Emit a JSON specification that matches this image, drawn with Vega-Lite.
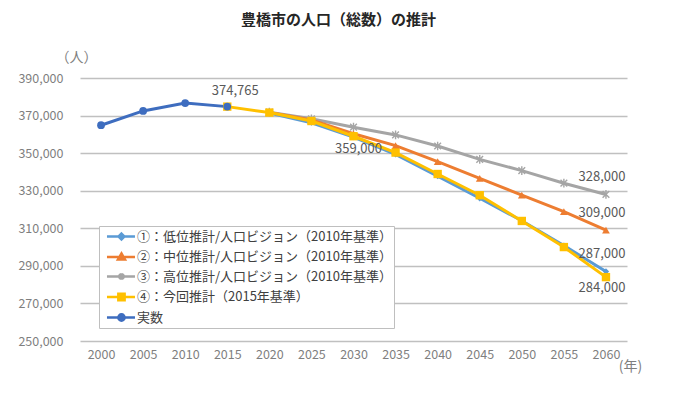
{
  "$schema": "https://vega.github.io/schema/vega-lite/v6.json",
  "width": 547,
  "height": 263,
  "autosize": {"type": "none"},
  "padding": {"left": 80, "top": 78, "right": 49, "bottom": 56},
  "title": {"text": "豊橋市の人口（総数）の推計", "frame": "group", "anchor": "middle", "offset": 22, "dx": -15, "fontSize": 15, "fontWeight": "bold", "color": "#262626", "font": "Noto Sans CJK JP"},
  "config": {
    "font": "Noto Sans CJK JP",
    "view": {"stroke": null},
    "axis": {"labelFont": "Noto Sans CJK JP", "titleFont": "Noto Sans CJK JP"}
  },
  "data": {
    "values": [
      {"series": "③：高位推計/人口ビジョン（2010年基準）", "year": 2020, "value": 371800},
      {"series": "③：高位推計/人口ビジョン（2010年基準）", "year": 2025, "value": 368300},
      {"series": "③：高位推計/人口ビジョン（2010年基準）", "year": 2030, "value": 363800},
      {"series": "③：高位推計/人口ビジョン（2010年基準）", "year": 2035, "value": 359700},
      {"series": "③：高位推計/人口ビジョン（2010年基準）", "year": 2040, "value": 353800},
      {"series": "③：高位推計/人口ビジョン（2010年基準）", "year": 2045, "value": 346700},
      {"series": "③：高位推計/人口ビジョン（2010年基準）", "year": 2050, "value": 340700},
      {"series": "③：高位推計/人口ビジョン（2010年基準）", "year": 2055, "value": 334000},
      {"series": "③：高位推計/人口ビジョン（2010年基準）", "year": 2060, "value": 328000},
      {"series": "②：中位推計/人口ビジョン（2010年基準）", "year": 2020, "value": 371600},
      {"series": "②：中位推計/人口ビジョン（2010年基準）", "year": 2025, "value": 367600},
      {"series": "②：中位推計/人口ビジョン（2010年基準）", "year": 2030, "value": 360300},
      {"series": "②：中位推計/人口ビジョン（2010年基準）", "year": 2035, "value": 354000},
      {"series": "②：中位推計/人口ビジョン（2010年基準）", "year": 2040, "value": 345500},
      {"series": "②：中位推計/人口ビジョン（2010年基準）", "year": 2045, "value": 336600},
      {"series": "②：中位推計/人口ビジョン（2010年基準）", "year": 2050, "value": 327700},
      {"series": "②：中位推計/人口ビジョン（2010年基準）", "year": 2055, "value": 318900},
      {"series": "②：中位推計/人口ビジョン（2010年基準）", "year": 2060, "value": 309000},
      {"series": "①：低位推計/人口ビジョン（2010年基準）", "year": 2020, "value": 371300},
      {"series": "①：低位推計/人口ビジョン（2010年基準）", "year": 2025, "value": 366200},
      {"series": "①：低位推計/人口ビジョン（2010年基準）", "year": 2030, "value": 358500},
      {"series": "①：低位推計/人口ビジョン（2010年基準）", "year": 2035, "value": 349300},
      {"series": "①：低位推計/人口ビジョン（2010年基準）", "year": 2040, "value": 337800},
      {"series": "①：低位推計/人口ビジョン（2010年基準）", "year": 2045, "value": 326000},
      {"series": "①：低位推計/人口ビジョン（2010年基準）", "year": 2050, "value": 314000},
      {"series": "①：低位推計/人口ビジョン（2010年基準）", "year": 2055, "value": 300800},
      {"series": "①：低位推計/人口ビジョン（2010年基準）", "year": 2060, "value": 287000},
      {"series": "④：今回推計（2015年基準）", "year": 2015, "value": 374765},
      {"series": "④：今回推計（2015年基準）", "year": 2020, "value": 371600},
      {"series": "④：今回推計（2015年基準）", "year": 2025, "value": 367100},
      {"series": "④：今回推計（2015年基準）", "year": 2030, "value": 359000},
      {"series": "④：今回推計（2015年基準）", "year": 2035, "value": 350300},
      {"series": "④：今回推計（2015年基準）", "year": 2040, "value": 338900},
      {"series": "④：今回推計（2015年基準）", "year": 2045, "value": 327600},
      {"series": "④：今回推計（2015年基準）", "year": 2050, "value": 313900},
      {"series": "④：今回推計（2015年基準）", "year": 2055, "value": 300000},
      {"series": "④：今回推計（2015年基準）", "year": 2060, "value": 284000},
      {"series": "実数", "year": 2000, "value": 364856},
      {"series": "実数", "year": 2005, "value": 372479},
      {"series": "実数", "year": 2010, "value": 376665},
      {"series": "実数", "year": 2015, "value": 374765}
    ]
  },
  "encoding": {
    "x": {
      "field": "year", "type": "ordinal",
      "scale": {"type": "point", "padding": 0.5, "domain": [2000, 2005, 2010, 2015, 2020, 2025, 2030, 2035, 2040, 2045, 2050, 2055, 2060]},
      "axis": {"title": "(年)", "labelAngle": 0, "ticks": false, "domain": false, "grid": false, "labelPadding": 7, "labelFontSize": 12.5, "labelColor": "#7f7f7f", "titleX": 550, "titleY": 25, "titleAlign": "center", "titleBaseline": "middle", "titleFontWeight": "normal", "titleFontSize": 14, "titleColor": "#7f7f7f"}
    },
    "y": {
      "field": "value", "type": "quantitative",
      "scale": {"domain": [250000, 390000]},
      "axis": {"values": [250000, 270000, 290000, 310000, 330000, 350000, 370000, 390000], "format": ",.0f", "title": "（人）", "titleAngle": 0, "titleX": -4, "titleY": -21, "titleAlign": "center", "titleBaseline": "middle", "titleFontWeight": "normal", "titleFontSize": 14, "titleColor": "#7f7f7f", "domain": false, "ticks": false, "labelPadding": 17, "gridColor": "#c0c0c0", "gridWidth": 1.5, "labelFontSize": 12.5, "labelColor": "#7f7f7f"}
    }
  },
  "layer": [
    {
      "mark": {"type": "line", "strokeWidth": 3},
      "encoding": {
        "color": {
          "field": "series", "type": "nominal",
          "scale": {"domain": ["①：低位推計/人口ビジョン（2010年基準）", "②：中位推計/人口ビジョン（2010年基準）", "③：高位推計/人口ビジョン（2010年基準）", "④：今回推計（2015年基準）", "実数"], "range": ["#5B9BD5", "#ED7D31", "#A5A5A5", "#FFC000", "#3E6DBF"]},
          "legend": {"orient": "none", "legendX": 19, "legendY": 148, "title": null, "fillColor": "white", "strokeColor": "#bfbfbf", "padding": 2, "symbolSize": 196, "symbolStrokeWidth": 2.5, "rowPadding": 3.5, "labelOffset": 19, "labelFontSize": 13, "labelColor": "#404040", "labelLimit": 400,
            "encode": {"symbols": {"update": {
              "shape": {"signal": "datum.value === '実数' ? 'M-0.36,0H3.64M2.16,0A0.45,0.45 0 1,1 1.26,0A0.45,0.45 0 1,1 2.16,0Z' : datum.value === '④：今回推計（2015年基準）' ? 'M-0.36,0H3.64M1.26,-0.45H2.16V0.45H1.26Z' : datum.value === '③：高位推計/人口ビジョン（2010年基準）' ? 'M-0.36,0H3.64M1.36,-0.35L2.06,0.35M1.36,0.35L2.06,-0.35M1.71,-0.45V0.45' : datum.value === '②：中位推計/人口ビジョン（2010年基準）' ? 'M-0.36,0H3.64M1.71,-0.5L2.21,0.35L1.21,0.35Z' : 'M-0.36,0H3.64M1.71,-0.42L2.13,0L1.71,0.42L1.29,0Z'"},
              "fill": {"signal": "scale('color', datum.value)"},
              "stroke": {"signal": "scale('color', datum.value)"},
              "strokeWidth": {"value": 2.5},
              "opacity": {"value": 1}
            }}}
          }
        }
      }
    },
    {
      "transform": [{"filter": "datum.series === '③：高位推計/人口ビジョン（2010年基準）'"}],
      "mark": {"type": "point", "shape": "M-1,-1L1,1M-1,1L1,-1M0,-1.3V1.3", "size": 45, "filled": false, "stroke": "#A5A5A5", "strokeWidth": 1.4, "opacity": 1}
    },
    {
      "transform": [{"filter": "datum.series === '②：中位推計/人口ビジョン（2010年基準）'"}],
      "mark": {"type": "point", "shape": "triangle-up", "size": 60, "filled": true, "color": "#ED7D31", "opacity": 1}
    },
    {
      "transform": [{"filter": "datum.series === '①：低位推計/人口ビジョン（2010年基準）'"}],
      "mark": {"type": "point", "shape": "diamond", "size": 40, "filled": true, "color": "#5B9BD5", "opacity": 1}
    },
    {
      "transform": [{"filter": "datum.series === '④：今回推計（2015年基準）'"}],
      "mark": {"type": "point", "shape": "square", "size": 70, "filled": true, "color": "#FFC000", "opacity": 1}
    },
    {
      "transform": [{"filter": "datum.series === '実数'"}],
      "mark": {"type": "point", "shape": "circle", "size": 60, "filled": true, "color": "#3E6DBF", "opacity": 1}
    },
    {
      "transform": [{"filter": "datum.series === '実数' && datum.year === 2015"}],
      "mark": {"type": "text", "dx": 8, "dy": -16, "fontSize": 13, "color": "#595959", "baseline": "middle"},
      "encoding": {"text": {"field": "value", "type": "quantitative", "format": ","}}
    },
    {
      "transform": [{"filter": "datum.series === '④：今回推計（2015年基準）' && datum.year === 2030"}],
      "mark": {"type": "text", "dx": 5, "dy": 13, "fontSize": 13, "color": "#595959", "baseline": "middle"},
      "encoding": {"text": {"field": "value", "type": "quantitative", "format": ","}}
    },
    {
      "transform": [{"filter": "datum.series !== '④：今回推計（2015年基準）' && datum.year === 2060"}],
      "mark": {"type": "text", "dx": -4, "dy": -17, "fontSize": 13, "color": "#595959", "baseline": "middle"},
      "encoding": {"text": {"field": "value", "type": "quantitative", "format": ","}}
    },
    {
      "transform": [{"filter": "datum.series === '④：今回推計（2015年基準）' && datum.year === 2060"}],
      "mark": {"type": "text", "dx": -4, "dy": 11, "fontSize": 13, "color": "#595959", "baseline": "middle"},
      "encoding": {"text": {"field": "value", "type": "quantitative", "format": ","}}
    }
  ]
}
